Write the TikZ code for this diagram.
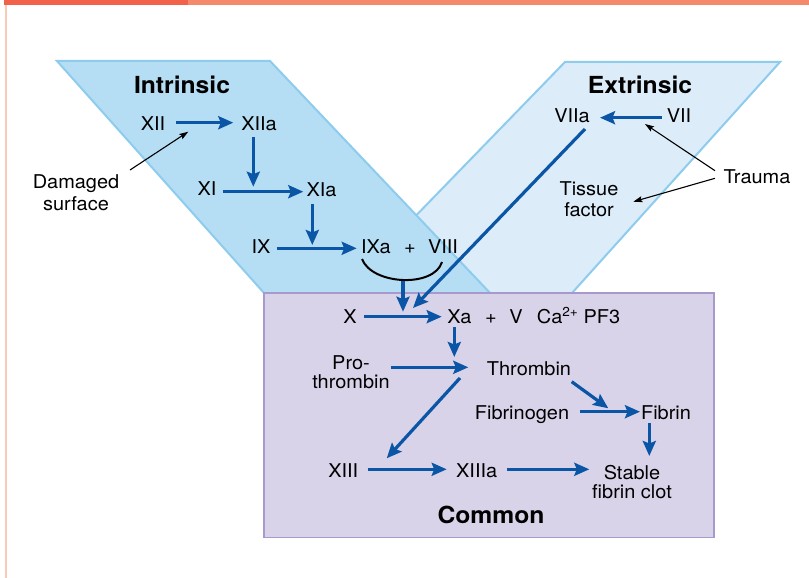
\documentclass[tikz,border=0pt]{standalone}
\usepackage{fontspec}
\setmainfont{TeX Gyre Heros}[FakeStretch=1.05]
\usetikzlibrary{arrows.meta,calc}

\definecolor{barDark}{HTML}{F2624A}
\definecolor{barLight}{HTML}{F5896B}
\definecolor{sideLine}{HTML}{FAC9B8}
\definecolor{intFill}{HTML}{B5DDF3}
\definecolor{extFill}{HTML}{DCECF9}
\definecolor{laneEdge}{HTML}{8ECCEE}
\definecolor{comFill}{HTML}{D8D3E8}
\definecolor{comEdge}{HTML}{A799CC}
\definecolor{flowBlue}{HTML}{0A55A5}

\newcommand{\ionsup}[1]{\raisebox{6.5pt}{\fontsize{13}{13}\selectfont #1}}

\begin{document}
\begin{tikzpicture}[x=1pt,y=-1pt,
  lbl/.style={font=\fontsize{19}{22}\selectfont, inner sep=0pt,
              text height=13.6pt, text depth=0pt},
  note/.style={font=\fontsize{19}{#1}\selectfont, inner sep=0pt,
               align=center, anchor=north},
  head/.style={font=\fontsize{23.5}{26}\selectfont\bfseries, inner sep=0pt,
               text height=16.8pt, text depth=0pt},
  flow/.style={draw=flowBlue, line width=3.2pt,
               -{Stealth[length=15pt,width=13pt,inset=2.5pt]}},
  hint/.style={draw=black, line width=1.1pt,
               -{Stealth[length=9pt,width=6pt,inset=1.5pt]}},
  lane/.style={draw=laneEdge, line width=2pt, line join=miter}
]
\useasboundingbox (0,0) rectangle (809,578);
\fill[white] (0,0) rectangle (809,578);

% page decoration
\fill[barDark] (4,0) rectangle (188,5);
\fill[barLight] (188,0) rectangle (809,5);
\fill[sideLine] (4.5,5) rectangle (6.5,578);

% pathway lanes
\filldraw[lane, fill=extFill] (565,62) -- (780,62) -- (569.3,296) -- (338,296) -- cycle;
\filldraw[lane, fill=intFill] (57,61) -- (270,61) -- (492.9,296) -- (266.7,296) -- cycle;
\filldraw[draw=comEdge, fill=comFill, line width=1.5pt] (264,293) rectangle (714,537.5);

% headings
\node[head] (intrinsic) at (182,84.6) {Intrinsic};
\node[head] (extrinsic) at (640,84.6) {Extrinsic};
\node[head] (common) at (491,515) {Common};

% intrinsic pathway
\node[lbl] (XII) at (153,124) {XII};
\node[lbl] (XIIa) at (259,124) {XIIa};
\node[lbl] (XI) at (207,189) {XI};
\node[lbl] (XIa) at (321.5,189.5) {XIa};
\node[lbl] (IX) at (261,247) {IX};
\node[lbl] (IXa) at (376,247) {IXa};
\node[lbl] (plusA) at (410,247) {+};
\node[lbl] (VIII) at (443,247) {VIII};
\node[note=22] (damaged) at (76,174.1) {Damaged\\surface};

% extrinsic pathway
\node[lbl] (VIIa) at (572,116) {VIIa};
\node[lbl] (VII) at (679,116) {VII};
\node[lbl] (trauma) at (757,176.5) {Trauma};
\node[note=20.7] (tissue) at (589,181.4) {Tissue\\factor};

% common pathway
\node[lbl] (X) at (350,316.5) {X};
\node[lbl] (Xa) at (459.3,316.5) {Xa};
\node[lbl] (plusB) at (491,316.5) {+};
\node[lbl] (V) at (516,316.5) {V};
\node[lbl, anchor=west] (cofac) at (536.7,316.5) {Ca\ionsup{2+} PF3};
\node[note=19] (prothr) at (351,355.7) {Pro-\\thrombin};
\node[lbl] (thrombin) at (529,369) {Thrombin};
\node[lbl] (fibrinogen) at (522,412.5) {Fibrinogen};
\node[lbl] (fibrin) at (666,412.5) {Fibrin};
\node[lbl] (XIII) at (343.3,470.5) {XIII};
\node[lbl] (XIIIa) at (476.7,470.5) {XIIIa};
\node[note=19] (clot) at (632,464.7) {Stable\\fibrin clot};

% intrinsic arrows
\draw[flow] ($(XII)+(23,-1.3)$) -- ($(XIIa)+(-25.7,-1.3)$);
\draw[flow] ($(XIIa)+(-5.7,13.3)$) -- ($(XIIa)+(-5.7,62.7)$);
\draw[flow] ($(XI)+(15.7,2.7)$) -- ($(XIa)+(-18.2,2.2)$);
\draw[flow] ($(XIa)+(-9.2,14.5)$) -- ($(XIa)+(-9.2,55.5)$);
\draw[flow] ($(IX)+(15.7,1.3)$) -- ($(IXa)+(-19.3,1.3)$);
\draw[hint] ($(damaged.north)+(54,-4.1)$) -- ($(XII)+(35.3,7.7)$);

% IXa + VIII complex
\draw[line width=2pt] ($(IXa)+(-14,12)$) .. controls ($(IXa)+(-4,38)$) and ($(VIII)+(-9,41)$) .. ($(VIII)+(-1,15)$);
\coordinate (arcmid) at (403,280.5);
\draw[flow] (arcmid) -- ($(arcmid)+(0,31.2)$);

% extrinsic arrows
\draw[flow] ($(VII)+(-17.3,1.7)$) -- ($(VIIa)+(28,1.7)$);
\draw[hint] ($(trauma)+(-42,-5.8)$) -- ($(VII)+(-34,8)$);
\draw[hint] ($(trauma)+(-42,1.8)$) -- ($(tissue.north)+(44.3,20.3)$);
\draw[flow] ($(VIIa)+(13,13)$) -- ($(Xa)+(-46.3,-8.5)$);

% common arrows
\draw[flow] ($(X)+(14,0.2)$) -- ($(Xa)+(-17.6,0.2)$);
\draw[flow] ($(Xa)+(-5,10.5)$) -- ($(Xa)+(-5,40.5)$);
\draw[flow] ($(prothr.north)+(39.7,11.6)$) -- ($(thrombin)+(-60.7,-1.7)$);
\draw[flow] ($(thrombin)+(-69,9)$) -- ($(XIII)+(43.4,-12.2)$);
\draw[flow] ($(thrombin)+(42.7,12.7)$) -- ($(fibrin)+(-57.7,-4.2)$);
\draw[flow] ($(fibrinogen)+(58,-0.8)$) -- ($(fibrin)+(-26,-0.8)$);
\draw[flow] ($(fibrin)+(-16.7,10.8)$) -- ($(fibrin)+(-16.7,43.5)$);
\draw[flow] ($(XIII)+(24.4,-1.2)$) -- ($(XIIIa)+(-30,-1.2)$);
\draw[flow] ($(XIIIa)+(30.6,-1.2)$) -- ($(clot.north)+(-42.7,4.6)$);
\end{tikzpicture}
\end{document}
